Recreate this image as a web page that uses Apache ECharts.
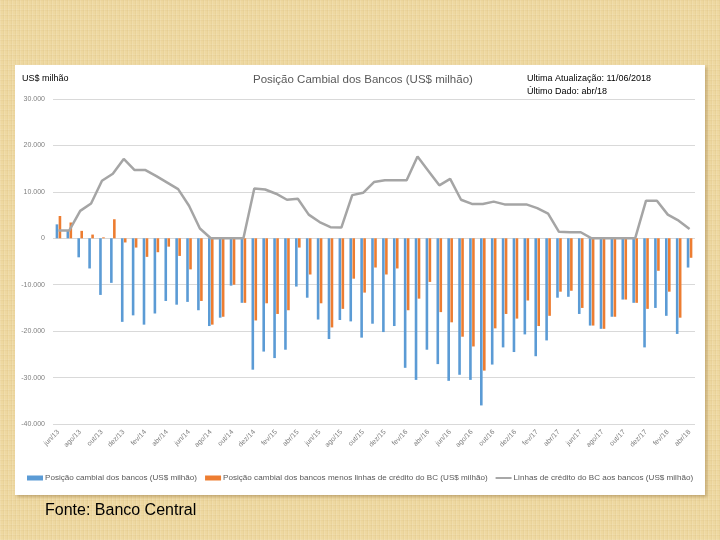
<!DOCTYPE html>
<html>
<head>
<meta charset="utf-8">
<script src="https://cdn.jsdelivr.net/npm/echarts@6/dist/echarts.min.js"></script>
<style>
html, body { margin:0; padding:0; width:720px; height:540px; overflow:hidden; }
body {
  background-color:#eed8a0;
  background-image:
    repeating-linear-gradient(90deg, rgba(255,255,255,0.10) 0px, rgba(255,255,255,0.10) 1px, rgba(0,0,0,0) 1px, rgba(0,0,0,0) 3px, rgba(160,120,50,0.06) 3px, rgba(160,120,50,0.06) 4px),
    repeating-linear-gradient(0deg, rgba(255,255,255,0.08) 0px, rgba(255,255,255,0.08) 1px, rgba(0,0,0,0) 1px, rgba(0,0,0,0) 4px, rgba(160,120,50,0.05) 4px, rgba(160,120,50,0.05) 5px);
  position:relative;
}
#panel { position:absolute; left:15px; top:65px; width:690px; height:430px; background:#fff; box-shadow:2px 2px 3px rgba(120,90,40,0.35); }
#chart { position:absolute; left:0; top:0; width:720px; height:540px; }
</style>
</head>
<body>
<div id="panel"></div>
<div id="chart"></div>
<script>
var categories = [
  'jun/13','jul/13','ago/13','set/13','out/13','nov/13','dez/13',
  'jan/14','fev/14','mar/14','abr/14','mai/14','jun/14','jul/14','ago/14','set/14','out/14','nov/14','dez/14',
  'jan/15','fev/15','mar/15','abr/15','mai/15','jun/15','jul/15','ago/15','set/15','out/15','nov/15','dez/15',
  'jan/16','fev/16','mar/16','abr/16','mai/16','jun/16','jul/16','ago/16','set/16','out/16','nov/16','dez/16',
  'jan/17','fev/17','mar/17','abr/17','mai/17','jun/17','jul/17','ago/17','set/17','out/17','nov/17','dez/17',
  'jan/18','fev/18','mar/18','abr/18'
];
var posicaoCambial = [
  3000, 1600, -4100, -6500, -12200, -9600, -18000,
  -16600, -18600, -16200, -13500, -14300, -13700, -15500, -18900, -17100, -10200, -13900, -28300,
  -24400, -25800, -24000, -10400, -12800, -17500, -21700, -17600, -17900, -21400, -18400, -20200,
  -18900, -27900, -30500, -24000, -27100, -30700, -29400, -30500, -36000, -27200, -23500, -24500,
  -20700, -25400, -22000, -12800, -12600, -16300, -18800, -19500, -16900, -13200, -13900, -23500,
  -15000, -16700, -20600, -6300
];
var posicaoMenosLinhas = [
  4800, 3400, 1600, 800, 200, 4100, -900,
  -2000, -4000, -3000, -1800, -3800, -6700, -13500, -18600, -16900, -10000, -13900, -17700,
  -14000, -16300, -15500, -2000, -7800, -14000, -19200, -15200, -8700, -11700, -6300, -7800,
  -6500, -15500, -13000, -9400, -15900, -18100, -21200, -23300, -28500, -19400, -16300, -17300,
  -13400, -18900, -16700, -11500, -11300, -15000, -18800, -19500, -16900, -13200, -13900, -15200,
  -7000, -11500, -17100, -4200
];
var linhasCredito = [
  1700, 1700, 5900, 7500, 12400, 13900, 17100,
  14700, 14700, 13400, 12000, 10600, 7000, 2100, 0, 0, 0, 0, 10700,
  10500, 9600, 8300, 8500, 5100, 3500, 2400, 2300, 9300, 9800, 12100, 12500,
  12500, 12500, 17600, 14500, 11400, 12800, 8300, 7400, 7400, 7900, 7300, 7300,
  7300, 6500, 5300, 1400, 1300, 1300, 0, 0, 0, 0, 0, 8100,
  8100, 5100, 3800, 2000
];
var seriesNames = [
  'Posição cambial dos bancos (US$ milhão)',
  'Posição cambial dos bancos menos linhas de crédito do BC (US$ milhão)',
  'Linhas de crédito do BC aos bancos (US$ milhão)'
];
var yTicks = { min: -40000, max: 30000, interval: 10000 };

var FONT = '"Liberation Sans", Arial, sans-serif';
var chart = echarts.init(document.getElementById('chart'), null, { renderer: 'canvas' });
function fmt(v) {
  var s = Math.abs(v).toString().replace(/\B(?=(\d{3})+(?!\d))/g, '.');
  return (v < 0 ? '-' : '') + s;
}
chart.setOption({
  backgroundColor: 'transparent',
  animation: false,
  textStyle: { fontFamily: FONT },
  graphic: [
    { type: 'text', left: 22, top: 74, style: { text: 'US$ milhão', font: '9px ' + FONT, fill: '#000' } },
    { type: 'text', left: 253, top: 74, style: { text: 'Posição Cambial dos Bancos (US$ milhão)', font: '11.5px ' + FONT, fill: '#595959' } },
    { type: 'text', left: 527, top: 74, style: { text: 'Ultima Atualização: 11/06/2018', font: '9px ' + FONT, fill: '#000' } },
    { type: 'text', left: 527, top: 87, style: { text: 'Último Dado: abr/18', font: '9px ' + FONT, fill: '#000' } },
    { type: 'text', left: 45, top: 503, style: { text: 'Fonte: Banco Central', font: '16px ' + FONT, fill: '#000' } }
  ],
  grid: { left: 53, right: 25, top: 99, bottom: 116, containLabel: false },
  legend: {
    left: 22, top: 469,
    itemWidth: 16, itemHeight: 5, itemGap: 8,
    symbolKeepAspect: true,
    textStyle: { fontSize: 8.1, color: '#595959', fontFamily: FONT, padding: [0, 0, 0, -3] },
    data: [
      { name: seriesNames[0], icon: 'rect' },
      { name: seriesNames[1], icon: 'rect' },
      { name: seriesNames[2], icon: 'path://M0,0 L20,0 L20,2.4 L0,2.4 Z' }
    ]
  },
  xAxis: {
    type: 'category',
    data: categories,
    boundaryGap: true,
    axisLine: { show: false },
    axisTick: { show: false },
    axisLabel: { interval: 1, rotate: 45, fontSize: 7, color: '#7f7f7f', margin: 7, fontFamily: FONT }
  },
  yAxis: {
    type: 'value',
    min: yTicks.min, max: yTicks.max, interval: yTicks.interval,
    axisLine: { show: false },
    axisTick: { show: false },
    splitLine: { lineStyle: { color: '#d9d9d9', width: 1 } },
    axisLabel: { fontSize: 7, color: '#7f7f7f', margin: 8, formatter: fmt, fontFamily: FONT }
  },
  series: [
    { name: seriesNames[0], type: 'bar', data: posicaoCambial, barWidth: 2.6, barGap: '15%', itemStyle: { color: '#5b9bd5' }, z: 2 },
    { name: seriesNames[1], type: 'bar', data: posicaoMenosLinhas, barWidth: 2.6, barGap: '15%', itemStyle: { color: '#ed7d31' }, z: 2 },
    { name: seriesNames[2], type: 'line', data: linhasCredito, symbol: 'none', showSymbol: false,
      lineStyle: { color: '#a5a5a5', width: 2.5 }, itemStyle: { color: '#a5a5a5' }, z: 5 }
  ]
});
</script>
</body>
</html>
